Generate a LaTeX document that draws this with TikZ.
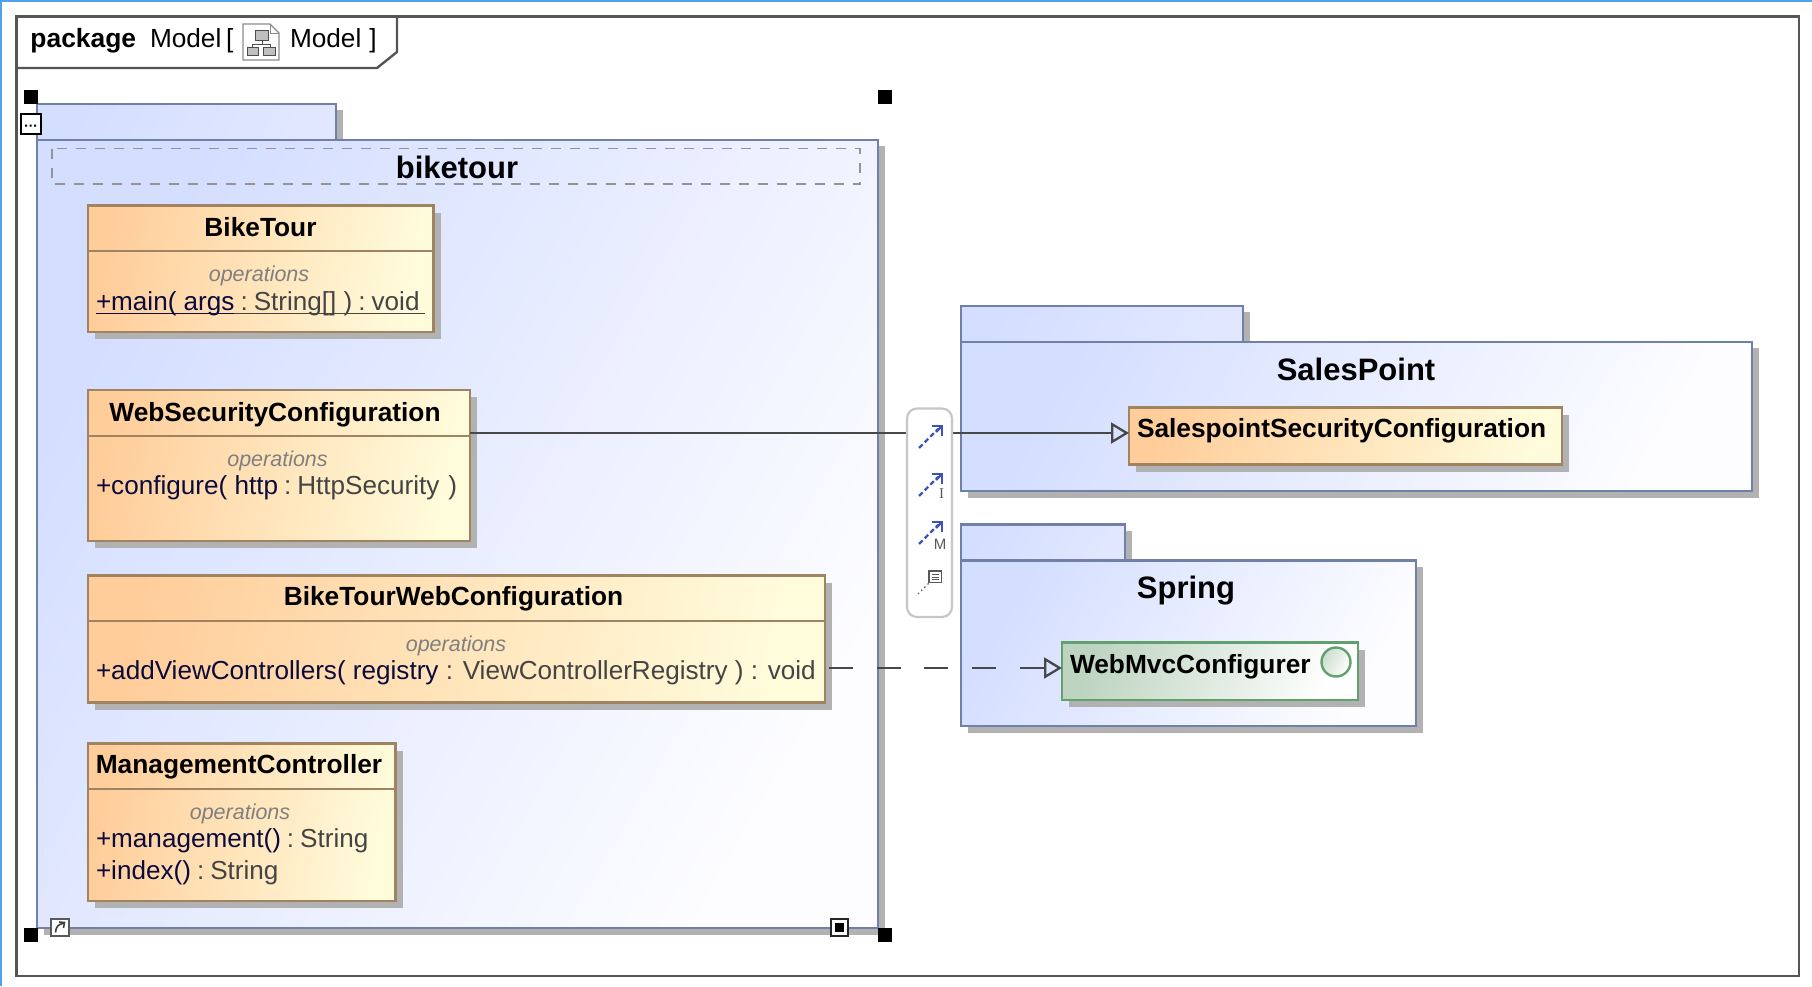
\documentclass[tikz,border=0pt]{standalone}
\usepackage{fontspec}
\setmainfont{Liberation Sans}
\usetikzlibrary{arrows.meta,fit,calc}
\definecolor{frameC}{HTML}{555555}
\definecolor{pkgLine}{HTML}{7080A8}
\definecolor{shadowC}{HTML}{B2B2B2}
\definecolor{clsLine}{HTML}{A08462}
\definecolor{pkgA}{HTML}{D4DEFF}
\definecolor{pkgB}{HTML}{FDFDFF}
\definecolor{clsA}{HTML}{FFCD9A}
\definecolor{clsB}{HTML}{FFFCDC}
\definecolor{ifcA}{HTML}{BDD4C0}
\definecolor{ifcB}{HTML}{FFFFFF}
\definecolor{ifcLine}{HTML}{62A06E}
\definecolor{nameC}{HTML}{0A0A3C}
\definecolor{typeC}{HTML}{444444}
\definecolor{opC}{HTML}{808080}
\definecolor{blueC}{HTML}{3F51BF}
\definecolor{edgeC}{HTML}{4FA3EC}
\newcommand{\titlefont}{\fontsize{26.3}{30}\selectfont\bfseries}
\newcommand{\bigfont}{\fontsize{31}{36}\selectfont\bfseries}
\newcommand{\bodyfont}{\fontsize{26.1}{30}\selectfont}
\newcommand{\opfont}{\fontsize{21.5}{25}\selectfont\itshape}
\newcommand{\nm}[1]{\textcolor{nameC}{#1}}
\newcommand{\ty}[1]{\textcolor{typeC}{#1}}
\tikzset{
  x=1pt,y=-1pt,
  txt/.style={inner sep=0pt,outer sep=0pt,anchor=base west,text=black},
  ctr/.style={inner sep=0pt,outer sep=0pt,anchor=base,text=black},
  optext/.style={inner sep=0pt,outer sep=0pt,anchor=base,text=opC,font=\opfont},
  pkgshade/.style={left color=pkgA,right color=pkgB,shading angle=60},
  tabshade/.style={left color=pkgA,right color=pkgA!70!pkgB,shading angle=60},
  clsbox/.style={inner sep=0pt,outer sep=0pt,draw=clsLine,line width=2.6pt,left color=clsA,right color=clsB,shading angle=80},
  ifcbox/.style={inner sep=0pt,outer sep=0pt,draw=ifcLine,line width=2.6pt,left color=ifcA,right color=ifcB,shading angle=70},
  shadowbox/.style={fill=shadowC,draw=none},
  relation/.style={draw=frameC!85!black,line width=2.3pt,-{Triangle[open,length=18pt,width=21pt,line width=2.3pt]}},
  handle/.style={fill=black,draw=none},
  quick/.style={draw=blueC,line width=2.2pt,dash pattern=on 5pt off 3pt},
  quickhead/.style={draw=blueC,line width=2.2pt,line cap=butt},
}
% package: x1 tab-right y-tab y-body x2 y2
\newcommand{\pkgshape}[7]{%
  \fill[shadowbox] (#2,#3+6) rectangle (#2+7,#4+2);
  \fill[shadowbox] (#5,#4+6) rectangle (#5+7,#6+7);
  \fill[shadowbox] (#1+7,#6) rectangle (#5+7,#6+7);
  \node[inner sep=0pt,outer sep=0pt,draw=pkgLine,line width=2.6pt,tabshade,fit={(#1,#3)(#2,#4)}] (#7tab) {};
  \node[inner sep=0pt,outer sep=0pt,draw=pkgLine,line width=2.6pt,pkgshade,fit={(#1,#4)(#5,#6)}] (#7) {};
}
\newcommand{\clsshape}[6][clsbox]{%
  \fill[shadowbox] (#3+7,#4+7) rectangle (#5+7,#6+7);
  \node[#1,fit={(#3,#4)(#5,#6)}] (#2) {};
}
\newcommand{\quickicon}[1]{%
  \draw[quick] (919,#1+22) -- (938,#1+3);
  \draw[quickhead] (932,#1) -- (942,#1) -- (942,#1+10);
  \draw[quickhead] (942,#1) -- (936,#1+6);
}
\begin{document}
\begin{tikzpicture}
\useasboundingbox (0,0) rectangle (1812,986);
\fill[white] (0,0) rectangle (1812,986);
\fill[edgeC] (0,0) rectangle (1812,2.4);
\fill[edgeC] (0,0) rectangle (2.4,986);
% outer frame
\draw[frameC,line width=2.4pt] (16.5,16.5) rectangle (1799,975.8);
\draw[frameC,line width=2.4pt] (397,16.5) -- (397,52) -- (377,68) -- (16.5,68);
\node[txt,font=\fontsize{26.4}{30}\selectfont\bfseries] (hdrkw) at (30.5,47) {package};
\node[txt,font=\fontsize{26.2}{30}\selectfont] (hdrname) at (150,47) {Model};
\node[txt,font=\fontsize{26.2}{30}\selectfont] (hdrb1) at (226,47) {[};
\node[txt,font=\fontsize{26.2}{30}\selectfont] (hdrname2) at (290,47) {Model\hspace{8pt}]};
% header icon
\draw[draw=black!45,fill=white,line width=1.2pt] (243,24) -- (270,24) -- (279,33) -- (279,60) -- (243,60) -- cycle;
\draw[draw=black!45,line width=1pt] (270,24) -- (270,33) -- (279,33);
\draw[draw=black!70,fill=black!25,line width=1pt] (255.5,30.5) rectangle (268,40);
\draw[draw=black!70,line width=1pt] (262,40) -- (262,44) (252,47) -- (252,44) -- (270,44) -- (270,47);
\draw[draw=black!70,fill=black!25,line width=1pt] (247,47.5) rectangle (258,55);
\draw[draw=black!70,fill=black!25,line width=1pt] (263.5,47.5) rectangle (275,55);
% biketour package
\pkgshape{37}{336}{104}{140}{878}{928}{biketour}
\draw[black!42,line width=1.1pt,dash pattern=on 10pt off 9pt] (52,148.5) rectangle (860,184);
\node[ctr,font=\bigfont] (biketourtitle) at (457,178) {biketour};
% BikeTour class
\clsshape{bt}{88}{205.5}{433.5}{332}
\draw[clsLine,line width=2.2pt] (bt.west |- 0,251) -- (bt.east |- 0,251);
\node[ctr,font=\titlefont] (bttitle) at (260.5,236) {BikeTour};
\node[optext] (btops) at (259,281) {operations};
\node[txt,font=\bodyfont] (btmain) at (96,310) {\nm{+main( args}\hspace{6pt}\ty{:\hspace{6pt}String[] )\hspace{6pt}:\hspace{6pt}void}};
\draw[nameC,line width=1.2pt] (96,313.5) -- (234,313.5);
\draw[typeC,line width=1.2pt] (234,313.5) -- (424.5,313.5);
% WebSecurityConfiguration
\clsshape{wsc}{88}{390}{470}{541}
\draw[clsLine,line width=2.2pt] (wsc.west |- 0,436) -- (wsc.east |- 0,436);
\node[ctr,font=\titlefont] (wsctitle) at (275,421) {WebSecurityConfiguration};
\node[optext] (wscops) at (277.5,466) {operations};
\node[txt,font=\bodyfont] (wscm) at (96,494.5) {\nm{+configure( http}\hspace{6pt}\ty{:\hspace{6pt}HttpSecurity\hspace{9pt})}};
% BikeTourWebConfiguration
\clsshape{btw}{88}{575.5}{825}{702.5}
\draw[clsLine,line width=2.2pt] (btw.west |- 0,621) -- (btw.east |- 0,621);
\node[ctr,font=\titlefont] (btwtitle) at (453.5,605.5) {BikeTourWebConfiguration};
\node[optext] (btwops) at (456,651) {operations};
\node[txt,font=\bodyfont] (btwm) at (96,679.5) {\nm{+addViewControllers( registry} \ty{: ViewControllerRegistry ) : void}};
% ManagementController
\clsshape{mc}{88}{743.5}{395.5}{901}
\draw[clsLine,line width=2.2pt] (mc.west |- 0,789) -- (mc.east |- 0,789);
\node[ctr,font=\titlefont] (mctitle) at (239,773) {ManagementController};
\node[optext] (mcops) at (240,819) {operations};
\node[txt,font=\bodyfont] (mcm1) at (96,847.5) {\nm{+management()}\hspace{6pt}\ty{:\hspace{6pt}String}};
\node[txt,font=\bodyfont] (mcm2) at (96,879) {\nm{+index()}\hspace{6pt}\ty{:\hspace{6pt}String}};
% SalesPoint package
\pkgshape{961}{1243}{306}{342}{1752}{490.8}{salespoint}
\node[ctr,font=\bigfont] (sptitle) at (1356,380) {SalesPoint};
\clsshape{ssc}{1129}{407.5}{1562}{464.5}
\node[txt,font=\titlefont] (ssctitle) at (1137,437) {SalespointSecurityConfiguration};
% Spring package
\pkgshape{961}{1125}{524.5}{560.5}{1416}{725.8}{spring}
\node[ctr,font=\bigfont] (springtitle) at (1186,598) {Spring};
\clsshape[ifcbox]{wmc}{1062}{642.5}{1358}{700}
\node[txt,font=\titlefont] (wmctitle) at (1070,673) {WebMvcConfigurer};
\node[circle,inner sep=0pt,outer sep=0pt,minimum size=29pt,draw=ifcLine,line width=2.4pt,left color=ifcA!80!white,right color=white,shading angle=60] (wmccirc) at (1336,662) {};
% connectors
\coordinate (c1) at (0,433);
\coordinate (c2) at (0,668);
\draw[relation] (wsc.east |- c1) -- (ssc.west |- c1);
\draw[relation,dash pattern=on 24pt off 23.7pt,dash phase=43.7pt] (btw.east |- c2) -- (wmc.west |- c2);
% toolbar
\node[inner sep=0pt,outer sep=0pt,draw=black!22,fill=white,line width=2.2pt,rounded corners=10pt,fit={(907,408.5)(952,617)}] (toolbar) {};
\quickicon{426}
\quickicon{474}
\quickicon{522}
\node[inner sep=0pt,font=\fontsize{15}{15}\selectfont,text=black!65,anchor=base] (ilabel) at (941.5,498) {\fontspec{Liberation Serif}I};
\node[inner sep=0pt,font=\fontsize{15}{15}\selectfont,text=black!65,anchor=base] (mlabel) at (940,549) {M};
\draw[black!65,line width=1.2pt] (929,571) rectangle (941.5,582.5);
\draw[black!65,line width=1pt] (931.5,574.5) -- (939,574.5) (931.5,577) -- (939,577) (931.5,579.5) -- (939,579.5);
\draw[black!65,line width=1.2pt,dash pattern=on 1.5pt off 3pt] (918,594) -- (929,583);
% handles
\fill[handle] (23.5,90) rectangle (37.5,104);
\fill[handle] (878,90) rectangle (892,104);
\fill[handle] (23.5,927.5) rectangle (37.5,941.5);
\fill[handle] (878,927.5) rectangle (892,941.5);
\draw[draw=black,fill=white,line width=2pt] (20.5,114) rectangle (40.5,133.5);
\fill[black] (25,124.5) rectangle (27,126.5) (29.5,124.5) rectangle (31.5,126.5) (34,124.5) rectangle (36,126.5);
\draw[draw=black!65,fill=white,line width=2pt] (51,918.5) rectangle (68.5,936);
\draw[black!75,line width=1.6pt] (55.5,932.5) .. controls (56,926.5) and (58,924.5) .. (64,923);
\draw[black!75,line width=1.6pt] (59,922) -- (64.5,922.5) -- (63.5,928);
\draw[draw=black!85,fill=white,line width=2pt] (830.5,918.5) rectangle (848,936);
\fill[black] (834.5,922.5) rectangle (844,932);
\end{tikzpicture}
\end{document}
